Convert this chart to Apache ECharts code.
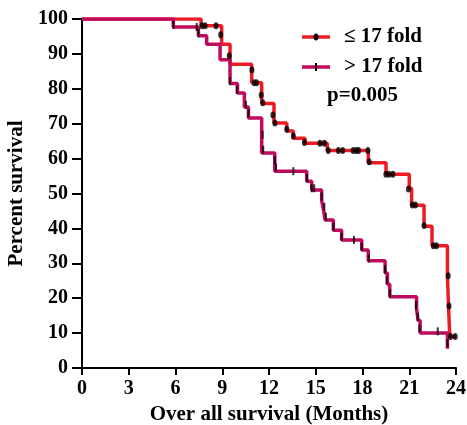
<!DOCTYPE html>
<html>
<head>
<meta charset="utf-8">
<style>
  html, body { margin: 0; padding: 0; background: #fff; }
  #chart { width: 467px; height: 425px; }
</style>
<script src="https://cdn.jsdelivr.net/npm/echarts@6/dist/echarts.min.js"></script>
</head>
<body>
<div id="chart"></div>
<script>
// step points: time (months) -> survival after the drop
var lowTime = [0, 7.64, 8.96, 9.5, 10.89, 11.53, 12.32, 13.14, 13.56, 14.31, 15.74, 18.37, 19.51, 21.0, 21.15, 21.95, 22.46, 23.45, 23.52, 23.6, 24.0]
var lowSurv = [100, 98.1, 92.8, 87.0, 81.7, 75.8, 70.2, 67.9, 65.8, 64.4, 62.3, 58.8, 55.5, 51.5, 46.6, 40.6, 35.0, 26.4, 17.8, 9.0, 9.0]
var highTime = [0, 5.86, 7.47, 8.0, 8.86, 9.5, 9.98, 10.42, 10.68, 11.53, 12.37, 14.42, 14.74, 15.38, 15.5, 15.6, 16.13, 16.66, 17.95, 18.37, 19.45, 19.6, 19.75, 21.47, 21.57, 21.7, 23.45]
var highSurv = [100, 97.7, 95.2, 92.8, 88.3, 81.5, 78.8, 74.8, 71.6, 61.6, 56.4, 53.5, 51.0, 48.0, 45.2, 42.4, 39.5, 36.7, 33.8, 30.7, 27.2, 24.0, 20.4, 17.0, 13.6, 10.0, 5.5]

// censored observations
var lowCensT = [7.7, 7.9, 8.6, 8.9, 9.45, 10.9, 11.05, 11.2, 11.5, 11.6, 12.25, 12.38, 13.14, 13.56, 14.27, 15.27, 15.55, 15.8, 16.45, 16.73, 17.4, 17.6, 17.75, 18.35, 18.43, 19.5, 19.7, 19.95, 20.95, 21.2, 21.4, 21.95, 22.55, 22.75, 23.5, 23.55, 23.65, 23.95]
var lowCensS = [98.1, 98.1, 98.1, 95.5, 89.5, 85.4, 81.7, 81.7, 78.2, 76.0, 72.5, 70.2, 68.4, 66.5, 64.6, 64.4, 64.4, 62.3, 62.3, 62.3, 62.3, 62.3, 62.3, 62.3, 59.1, 55.5, 55.5, 55.5, 51.3, 46.7, 46.7, 40.8, 35.0, 35.0, 26.4, 17.8, 9.0, 9.0]
var highCensT = [5.86, 7.36, 7.47, 9.5, 9.93, 10.52, 10.68, 11.59, 11.63, 12.37, 12.45, 13.56, 14.44, 14.74, 14.9, 15.38, 15.55, 15.65, 16.13, 16.66, 17.45, 17.95, 18.4, 19.45, 19.55, 19.77, 21.43, 21.54, 21.65, 22.83, 23.45]
var highCensS = [98.3, 97.7, 95.9, 82.2, 79.7, 75.4, 73.0, 66.8, 62.5, 59.6, 57.5, 56.4, 54.4, 51.5, 51.5, 49.1, 46.2, 43.4, 40.5, 37.6, 36.7, 34.7, 31.4, 28.3, 25.2, 21.4, 18.0, 14.7, 11.4, 10.5, 7.1]

var xTicks = [0, 3, 6, 9, 12, 15, 18, 21, 24]
var yTicks = [0, 10, 20, 30, 40, 50, 60, 70, 80, 90, 100]

var RED = '#ed1c24'
var PURPLE = '#c00a5e'
var FONT = '"Liberation Serif", "Times New Roman", serif'

function pairs(xs, ys) {
  var out = []
  for (var i = 0; i < xs.length; i++) out.push([xs[i], ys[i]])
  return out
}

var chart = echarts.init(document.getElementById('chart'))

var axisStyle = {
  axisLine: { lineStyle: { color: '#000', width: 2 } },
  splitLine: { show: false },
  axisLabel: { color: '#000', fontFamily: FONT, fontWeight: 'bold', fontSize: 20 },
  nameTextStyle: { color: '#000', fontFamily: FONT, fontWeight: 'bold', fontSize: 21 }
}

chart.setOption({
  animation: false,
  grid: { left: 82, right: 11, top: 19, bottom: 57, containLabel: false, outerBoundsMode: 'none' },
  xAxis: Object.assign({}, axisStyle, {
    type: 'value',
    min: xTicks[0],
    max: xTicks[xTicks.length - 1],
    interval: 3,
    name: 'Over all survival (Months)',
    nameLocation: 'middle',
    nameGap: 30,
    axisTick: { length: 7, lineStyle: { color: '#000', width: 2 } },
    axisLabel: Object.assign({}, axisStyle.axisLabel, { margin: 11 })
  }),
  yAxis: Object.assign({}, axisStyle, {
    type: 'value',
    min: yTicks[0],
    max: yTicks[yTicks.length - 1],
    interval: 10,
    name: 'Percent survival',
    nameLocation: 'middle',
    nameGap: 51,
    axisTick: { length: 10, lineStyle: { color: '#000', width: 2 } },
    axisLabel: Object.assign({}, axisStyle.axisLabel, { margin: 14 })
  }),
  graphic: [
    { type: 'line', shape: { x1: 302, y1: 37, x2: 330, y2: 37 }, style: { stroke: RED, lineWidth: 3.5 } },
    { type: 'ellipse', shape: { cx: 316, cy: 37, rx: 2.5, ry: 3.5 }, style: { fill: '#000' } },
    { type: 'text', left: 344, top: 26, style: { text: '≤ 17 fold', fill: '#000', font: 'bold 21px ' + FONT } },
    { type: 'line', shape: { x1: 302, y1: 67, x2: 330, y2: 67 }, style: { stroke: PURPLE, lineWidth: 3.5 } },
    { type: 'rect', shape: { x: 315, y: 63, width: 2, height: 8 }, style: { fill: '#000' } },
    { type: 'text', left: 344, top: 56, style: { text: '> 17 fold', fill: '#000', font: 'bold 21px ' + FONT } },
    { type: 'text', left: 327, top: 85, style: { text: 'p=0.005', fill: '#000', font: 'bold 21px ' + FONT } }
  ],
  series: [
    {
      name: '≤ 17 fold',
      type: 'line',
      step: 'end',
      data: pairs(lowTime, lowSurv),
      symbol: 'none',
      lineStyle: { color: RED, width: 3.5 },
      z: 2
    },
    {
      name: '> 17 fold',
      type: 'line',
      step: 'end',
      data: pairs(highTime, highSurv),
      symbol: 'none',
      lineStyle: { color: PURPLE, width: 3.5 },
      z: 3
    },
    {
      type: 'scatter',
      data: pairs(lowCensT, lowCensS),
      symbol: 'circle',
      symbolSize: [5, 7],
      itemStyle: { color: '#000' },
      z: 4
    },
    {
      type: 'scatter',
      data: pairs(highCensT, highCensS),
      symbol: 'rect',
      symbolSize: [2, 8],
      itemStyle: { color: '#000' },
      z: 4
    }
  ]
})
</script>
</body>
</html>
